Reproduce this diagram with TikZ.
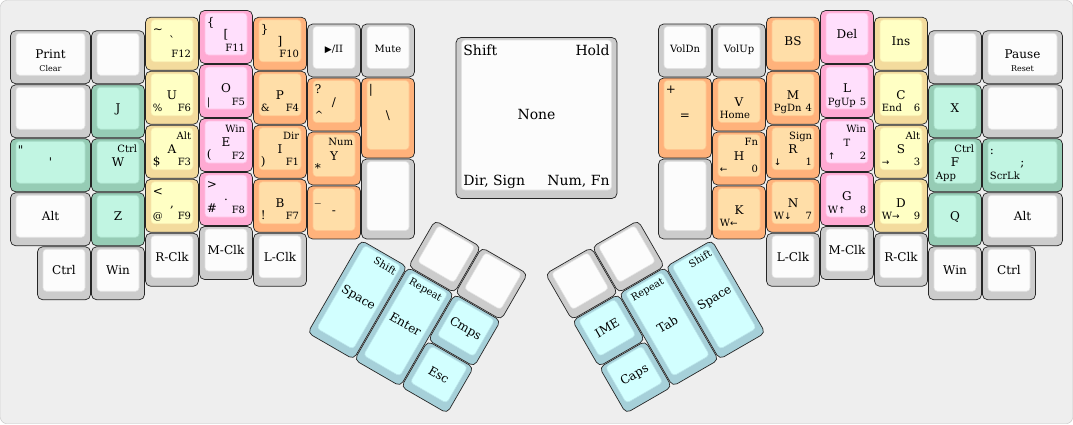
\documentclass[tikz,border=0pt]{standalone}
\usepackage{fontspec}
\setmainfont{DejaVu Serif}
\newfontfamily\ksym{DejaVu Sans}

\definecolor{kbg}{HTML}{EEEEEE}
\definecolor{kgrayout}{HTML}{CCCCCC}
\definecolor{kgrayface}{HTML}{FCFCFC}
\definecolor{kyelout}{HTML}{F3DB9D}
\definecolor{kyelface}{HTML}{FFFFC4}
\definecolor{kpinkout}{HTML}{FFAAD3}
\definecolor{kpinkface}{HTML}{FFDFFC}
\definecolor{korgout}{HTML}{FFB27B}
\definecolor{korgface}{HTML}{FFDEA8}
\definecolor{ktealout}{HTML}{96CCB5}
\definecolor{ktealface}{HTML}{C1F5E2}
\definecolor{kblueout}{HTML}{A6D0D9}
\definecolor{kblueface}{HTML}{D2FFFF}
\colorlet{kgrayline}{kgrayout!55!kgrayface}
\colorlet{kyelline}{kyelout!55!kyelface}
\colorlet{kpinkline}{kpinkout!55!kpinkface}
\colorlet{korgline}{korgout!55!korgface}
\colorlet{ktealline}{ktealout!55!ktealface}
\colorlet{kblueline}{kblueout!55!kblueface}

\newcommand{\kfs}[1]{\fontsize{#1pt}{#1pt}\selectfont}
% name, x, y, w, h, colour, centre legend
\newcommand{\kbkey}[7]{%
  \draw[keyouter, fill=k#6out] ({#2+0.01},{#3+0.01}) rectangle ({#2+#4-0.01},{#3+#5-0.01});
  \node[keyface, fill=k#6face, draw=k#6line,
        minimum width={#4*54pt-12pt}, minimum height={#5*54pt-12pt}]
        (#1) at ({#2+#4/2},{#3+#5/2-0.0556}) {};
  \node[kc=#1, s12] (#1-c) {#7};}

\begin{document}
\begin{tikzpicture}[
  x=54pt, y=-54pt,
  keyouter/.style={draw=black!85, line width=0.7pt, rounded corners=5pt},
  keyface/.style={rounded corners=3.5pt, inner sep=0pt, line width=0.6pt},
  s8/.style={font=\kfs{8}, text height=8pt, text depth=2pt},
  s10/.style={font=\kfs{10}, text height=10pt, text depth=2.5pt},
  s12/.style={font=\kfs{12}, text height=12pt, text depth=3pt},
  s14/.style={font=\kfs{14}, text height=14pt, text depth=3.5pt},
  klabel/.style={inner xsep=2pt, inner ysep=1.5pt},
  kc/.style={inner sep=0pt, anchor=center, at={(#1.center)}},
  ktl/.style={klabel, anchor=north west, at={(#1.north west)}},
  ktc/.style={klabel, anchor=north, at={(#1.north)}},
  ktr/.style={klabel, anchor=north east, at={(#1.north east)}},
  kbl/.style={klabel, anchor=south west, at={(#1.south west)}},
  kbc/.style={klabel, anchor=south, at={(#1.south)}},
  kbr/.style={klabel, anchor=south east, at={(#1.south east)}}
  ]
  \useasboundingbox (-10pt,10pt) rectangle (1063pt,-414pt);
  \draw[fill=kbg, draw=black!25, rounded corners=6pt] (-9.5pt,9.5pt) rectangle (1062.5pt,-413.5pt);

  % left half
  \kbkey{kPrint}{0}{0.375}{1.5}{1}{gray}{Print}
  \node[kbc=kPrint, s8] (kPrint-bc) {Clear};
  \kbkey{kLBlankA}{1.5}{0.375}{1}{1}{gray}{}
  \kbkey{kLBlankB}{0}{1.375}{1.5}{1}{gray}{}
  \kbkey{kJ}{1.5}{1.375}{1}{1}{teal}{J}
  \kbkey{kQuote}{0}{2.375}{1.5}{1}{teal}{\textquotesingle}
  \node[ktl=kQuote, s12] (kQuote-tl) {\textquotedbl};
  \kbkey{kW}{1.5}{2.375}{1}{1}{teal}{W}
  \node[ktr=kW, s10] (kW-tr) {Ctrl};
  \kbkey{kLAlt}{0}{3.375}{1.5}{1}{gray}{Alt}
  \kbkey{kZ}{1.5}{3.375}{1}{1}{teal}{Z}
  \kbkey{kLCtrl}{0.5}{4.375}{1}{1}{gray}{Ctrl}
  \kbkey{kLWin}{1.5}{4.375}{1}{1}{gray}{Win}

  \kbkey{kGrave}{2.5}{0.125}{1}{1}{yel}{\textasciigrave}
  \node[ktl=kGrave, s12] (kGrave-tl) {\textasciitilde};
  \node[kbr=kGrave, s10] (kGrave-br) {F12};
  \kbkey{kU}{2.5}{1.125}{1}{1}{yel}{U}
  \node[kbl=kU, s10] (kU-bl) {\%};
  \node[kbr=kU, s10] (kU-br) {F6};
  \kbkey{kA}{2.5}{2.125}{1}{1}{yel}{A}
  \node[ktr=kA, s10] (kA-tr) {Alt};
  \node[kbl=kA, s12] (kA-bl) {\$};
  \node[kbr=kA, s10] (kA-br) {F3};
  \kbkey{kComma}{2.5}{3.125}{1}{1}{yel}{,}
  \node[ktl=kComma, s12] (kComma-tl) {<};
  \node[kbl=kComma, s10] (kComma-bl) {@};
  \node[kbr=kComma, s10] (kComma-br) {F9};
  \kbkey{kLRClk}{2.5}{4.125}{1}{1}{gray}{R-Clk}

  \kbkey{kLBrack}{3.5}{0}{1}{1}{pink}{[}
  \node[ktl=kLBrack, s12] (kLBrack-tl) {\{};
  \node[kbr=kLBrack, s10] (kLBrack-br) {F11};
  \kbkey{kO}{3.5}{1}{1}{1}{pink}{O}
  \node[kbl=kO, s10] (kO-bl) {|};
  \node[kbr=kO, s10] (kO-br) {F5};
  \kbkey{kE}{3.5}{2}{1}{1}{pink}{E}
  \node[ktr=kE, s10] (kE-tr) {Win};
  \node[kbl=kE, s12] (kE-bl) {(};
  \node[kbr=kE, s10] (kE-br) {F2};
  \kbkey{kDot}{3.5}{3}{1}{1}{pink}{.}
  \node[ktl=kDot, s12] (kDot-tl) {>};
  \node[kbl=kDot, s12] (kDot-bl) {\#};
  \node[kbr=kDot, s10] (kDot-br) {F8};
  \kbkey{kLMClk}{3.5}{4}{1}{1}{gray}{M-Clk}

  \kbkey{kRBrack}{4.5}{0.125}{1}{1}{org}{]}
  \node[ktl=kRBrack, s12] (kRBrack-tl) {\}};
  \node[kbr=kRBrack, s10] (kRBrack-br) {F10};
  \kbkey{kP}{4.5}{1.125}{1}{1}{org}{P}
  \node[kbl=kP, s10] (kP-bl) {\&};
  \node[kbr=kP, s10] (kP-br) {F4};
  \kbkey{kI}{4.5}{2.125}{1}{1}{org}{I}
  \node[ktr=kI, s10] (kI-tr) {Dir};
  \node[kbl=kI, s12] (kI-bl) {)};
  \node[kbr=kI, s10] (kI-br) {F1};
  \kbkey{kB}{4.5}{3.125}{1}{1}{org}{B}
  \node[kbl=kB, s12] (kB-bl) {!};
  \node[kbr=kB, s10] (kB-br) {F7};
  \kbkey{kLLClk}{4.5}{4.125}{1}{1}{gray}{L-Clk}

  \kbkey{kPlay}{5.5}{0.25}{1}{1}{gray}{\kfs{10}{\ksym\kfs{9}▶}/II}
  \kbkey{kSlash}{5.5}{1.25}{1}{1}{org}{/}
  \node[ktl=kSlash, s12] (kSlash-tl) {?};
  \node[kbl=kSlash, s10] (kSlash-bl) {\textasciicircum};
  \kbkey{kY}{5.5}{2.25}{1}{1}{org}{Y}
  \node[ktr=kY, s10] (kY-tr) {Num};
  \node[kbl=kY, s12] (kY-bl) {*};
  \kbkey{kMinus}{5.5}{3.25}{1}{1}{org}{-}
  \node[ktl=kMinus, s12] (kMinus-tl) {\_};

  \kbkey{kMute}{6.5}{0.25}{1}{1}{gray}{\kfs{10}Mute}
  \kbkey{kBslash}{6.5}{1.25}{1}{1.5}{org}{\textbackslash}
  \node[ktl=kBslash, s12] (kBslash-tl) {|};
  \kbkey{kLBlankC}{6.5}{2.75}{1}{1.5}{gray}{}

  % layer key
  \kbkey{kLayer}{8.25}{0.5}{3}{3}{gray}{\kfs{14}None}
  \node[ktl=kLayer, s14] (kLayer-tl) {Shift};
  \node[ktr=kLayer, s14] (kLayer-tr) {Hold};
  \node[kbl=kLayer, s14] (kLayer-bl) {Dir, Sign};
  \node[kbr=kLayer, s14] (kLayer-br) {Num, Fn};

  % right half
  \kbkey{kVolDn}{12}{0.25}{1}{1}{gray}{\kfs{10}VolDn}
  \kbkey{kEqual}{12}{1.25}{1}{1.5}{org}{=}
  \node[ktl=kEqual, s12] (kEqual-tl) {+};
  \kbkey{kRBlankC}{12}{2.75}{1}{1.5}{gray}{}

  \kbkey{kVolUp}{13}{0.25}{1}{1}{gray}{\kfs{10}VolUp}
  \kbkey{kV}{13}{1.25}{1}{1}{org}{V}
  \node[kbl=kV, s10] (kV-bl) {Home};
  \kbkey{kH}{13}{2.25}{1}{1}{org}{H}
  \node[ktr=kH, s10] (kH-tr) {Fn};
  \node[kbl=kH, s10] (kH-bl) {{\ksym\kfs{9}←}};
  \node[kbr=kH, s10] (kH-br) {0};
  \kbkey{kK}{13}{3.25}{1}{1}{org}{K}
  \node[kbl=kK, s10] (kK-bl) {W{\ksym\kfs{9}←}};

  \kbkey{kBS}{14}{0.125}{1}{1}{org}{BS}
  \kbkey{kM}{14}{1.125}{1}{1}{org}{M}
  \node[kbl=kM, s10] (kM-bl) {PgDn};
  \node[kbr=kM, s10] (kM-br) {4};
  \kbkey{kR}{14}{2.125}{1}{1}{org}{R}
  \node[ktr=kR, s10] (kR-tr) {Sign};
  \node[kbl=kR, s10] (kR-bl) {{\ksym\kfs{9}↓}};
  \node[kbr=kR, s10] (kR-br) {1};
  \kbkey{kN}{14}{3.125}{1}{1}{org}{N}
  \node[kbl=kN, s10] (kN-bl) {W{\ksym\kfs{9}↓}};
  \node[kbr=kN, s10] (kN-br) {7};
  \kbkey{kRLClk}{14}{4.125}{1}{1}{gray}{L-Clk}

  \kbkey{kDel}{15}{0}{1}{1}{pink}{Del}
  \kbkey{kL}{15}{1}{1}{1}{pink}{L}
  \node[kbl=kL, s10] (kL-bl) {PgUp};
  \node[kbr=kL, s10] (kL-br) {5};
  \kbkey{kT}{15}{2}{1}{1}{pink}{\kfs{10}T}
  \node[ktr=kT, s10] (kT-tr) {Win};
  \node[kbl=kT, s10] (kT-bl) {{\ksym\kfs{9}↑}};
  \node[kbr=kT, s10] (kT-br) {2};
  \kbkey{kG}{15}{3}{1}{1}{pink}{G}
  \node[kbl=kG, s10] (kG-bl) {W{\ksym\kfs{9}↑}};
  \node[kbr=kG, s10] (kG-br) {8};
  \kbkey{kRMClk}{15}{4}{1}{1}{gray}{M-Clk}

  \kbkey{kIns}{16}{0.125}{1}{1}{yel}{Ins}
  \kbkey{kC}{16}{1.125}{1}{1}{yel}{C}
  \node[kbl=kC, s10] (kC-bl) {End};
  \node[kbr=kC, s10] (kC-br) {6};
  \kbkey{kS}{16}{2.125}{1}{1}{yel}{S}
  \node[ktr=kS, s10] (kS-tr) {Alt};
  \node[kbl=kS, s10] (kS-bl) {{\ksym\kfs{9}→}};
  \node[kbr=kS, s10] (kS-br) {3};
  \kbkey{kD}{16}{3.125}{1}{1}{yel}{D}
  \node[kbl=kD, s10] (kD-bl) {W{\ksym\kfs{9}→}};
  \node[kbr=kD, s10] (kD-br) {9};
  \kbkey{kRRClk}{16}{4.125}{1}{1}{gray}{R-Clk}

  \kbkey{kRBlankA}{17}{0.375}{1}{1}{gray}{}
  \kbkey{kX}{17}{1.375}{1}{1}{teal}{X}
  \kbkey{kF}{17}{2.375}{1}{1}{teal}{F}
  \node[ktr=kF, s10] (kF-tr) {Ctrl};
  \node[kbl=kF, s10] (kF-bl) {App};
  \kbkey{kQ}{17}{3.375}{1}{1}{teal}{Q}
  \kbkey{kRWin}{17}{4.375}{1}{1}{gray}{Win}

  \kbkey{kPause}{18}{0.375}{1.5}{1}{gray}{Pause}
  \node[kbc=kPause, s8] (kPause-bc) {Reset};
  \kbkey{kRBlankB}{18}{1.375}{1.5}{1}{gray}{}
  \kbkey{kSemi}{18}{2.375}{1.5}{1}{teal}{;}
  \node[ktl=kSemi, s12] (kSemi-tl) {:};
  \node[kbl=kSemi, s10] (kSemi-bl) {ScrLk};
  \kbkey{kRAlt}{18}{3.375}{1.5}{1}{gray}{Alt}
  \kbkey{kRCtrl}{18}{4.375}{1}{1}{gray}{Ctrl}

  % thumb clusters
  \begin{scope}[shift={(6.5,4.25)}, rotate=-30, transform shape]
    \kbkey{kLSpace}{0}{0}{1}{2}{blue}{Space}
    \node[ktr=kLSpace, s10] (kLSpace-tr) {Shift};
    \kbkey{kEnter}{1}{0}{1}{2}{blue}{Enter}
    \node[ktc=kEnter, s10] (kEnter-tc) {Repeat};
    \kbkey{kLThumbA}{1}{-1}{1}{1}{gray}{}
    \kbkey{kLThumbB}{2}{-1}{1}{1}{gray}{}
    \kbkey{kCmps}{2}{0}{1}{1}{blue}{Cmps}
    \kbkey{kEsc}{2}{1}{1}{1}{blue}{Esc}
  \end{scope}
  \begin{scope}[shift={(10.402,5.75)}, rotate=30, transform shape]
    \kbkey{kRThumbA}{0}{-1}{1}{1}{gray}{}
    \kbkey{kRThumbB}{1}{-1}{1}{1}{gray}{}
    \kbkey{kIME}{0}{0}{1}{1}{blue}{IME}
    \kbkey{kCaps}{0}{1}{1}{1}{blue}{Caps}
    \kbkey{kTab}{1}{0}{1}{2}{blue}{Tab}
    \node[ktc=kTab, s10] (kTab-tc) {Repeat};
    \kbkey{kRSpace}{2}{0}{1}{2}{blue}{Space}
    \node[ktr=kRSpace, s10] (kRSpace-tr) {Shift};
  \end{scope}
\end{tikzpicture}
\end{document}
